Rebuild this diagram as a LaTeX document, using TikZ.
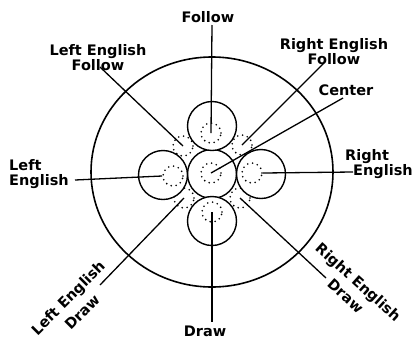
\documentclass[tikz,border=0pt]{standalone}
\usepackage{fontspec}
\setmainfont{DejaVu Sans}
\usepackage{tikz}
\usetikzlibrary{calc,positioning}

\begin{document}
\begin{tikzpicture}[
      x=1pt, y=-1pt,
      font=\fontsize{14.5}{15}\selectfont\bfseries,
      ring/.style={circle, draw=black, line width=1.4pt, fill=white, minimum size=49pt, inner sep=0pt},
      spot/.style={circle, draw=black, line width=1.8pt, dash pattern=on 0pt off 5pt, line cap=round, minimum size=20pt, inner sep=0pt},
      pointer/.style={line width=1.3pt},
      lbl/.style={align=center, inner sep=1pt},
]
\useasboundingbox (0,0) rectangle (412,341);

% table
\draw[line width=1.6pt] (212,172) ellipse (121 and 115);

% spots in the gaps
\node[spot] (spot_tl) at (183,146) {};
\node[spot] (spot_tr) at (242,145) {};
\node[spot] (spot_bl) at (184,198) {};
\node[spot] (spot_br) at (240,198) {};

% the five balls
\node[ring] (ball_c) at (212,174) {};
\node[ring] (ball_t) at (212,126) {};
\node[ring] (ball_b) at (212,221) {};
\node[ring] (ball_l) at (163,175) {};
\node[ring] (ball_r) at (261,174) {};

% aiming spots
\node[spot] (aim_c) at (211,173) {};
\node[spot] (aim_t) at (211,133) {};
\node[spot] (aim_b) at (212,212) {};
\node[spot] (aim_l) at (173,176) {};
\node[spot] (aim_r) at (252,173) {};

% labels
\node[lbl] (lbl_follow) at (208,17) {Follow};
\node[lbl] (lbl_draw) at (205,331) {Draw};
\node[lbl] (lbl_center) at (346,90) {Center};
\node[lbl] (lbl_lef) at (98,58) {Left English\\Follow};
\node[lbl] (lbl_ref) at (334,52) {Right English\\Follow};
\node[lbl, align=left, anchor=west] (lbl_le) at (8,174) {Left\\English};
\node[lbl, align=left, anchor=west] (lbl_re) at (344,164) {Right\\\hspace*{8pt}English};
\node[lbl, rotate=45] (lbl_led) at (75,305) {Left English\\[5pt]Draw};
\node[lbl, rotate=-42] (lbl_red) at (352,289) {Right English\\[4pt]Draw};

\coordinate (end_follow) at (212,25);
\coordinate (end_draw) at (212,322);
\coordinate (end_center) at (343,98);
\coordinate (end_lef) at (100,67);
\coordinate (end_ref) at (324,63);
\coordinate (end_le) at (75,180);
\coordinate (end_re) at (353,172);
\coordinate (end_led) at (100,285);
\coordinate (end_red) at (326,278);

\draw[pointer] (end_follow) -- (aim_t.center);
\draw[pointer] (aim_b.center) -- (end_draw);
\draw[pointer] (aim_c.center) -- (end_center);
\draw[pointer] (end_lef) -- (spot_tl.center);
\draw[pointer] (end_ref) -- (spot_tr.center);
\draw[pointer] (end_le) -- (aim_l.west);
\draw[pointer] (aim_r.east) -- (end_re);
\draw[pointer] (end_led) -- (spot_bl.center);
\draw[pointer] (end_red) -- (spot_br.center);

\end{tikzpicture}
\end{document}
